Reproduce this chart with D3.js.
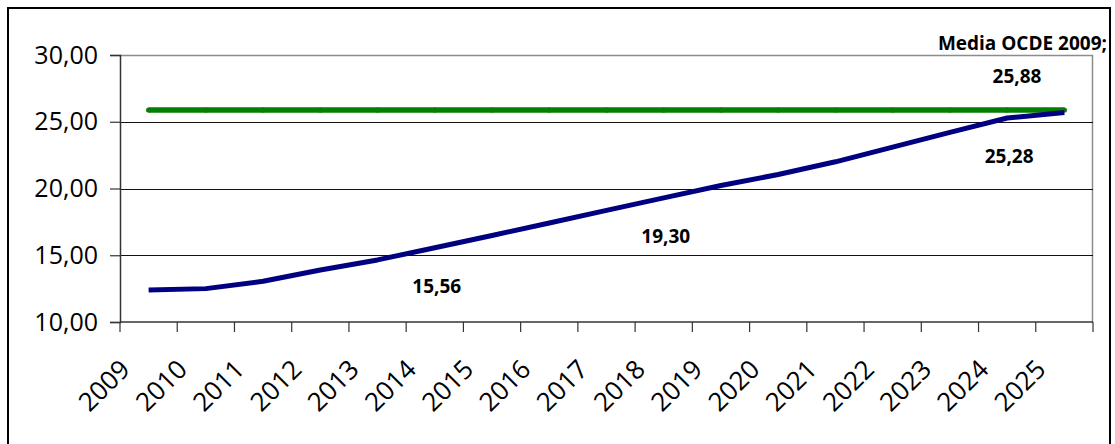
<!DOCTYPE html>
<html>
<head>
<meta charset="utf-8">
<script src="https://cdn.jsdelivr.net/npm/d3@7"></script>
<style>
  html, body { margin: 0; padding: 0; background: #fff; }
  svg { display: block; }
</style>
</head>
<body>
<svg id="chart" width="1115" height="444"></svg>
<script>
// Years on the category axis
const years = ["2009","2010","2011","2012","2013","2014","2015","2016","2017",
               "2018","2019","2020","2021","2022","2023","2024","2025"];
// Projected series (blue)
const projected = [12.40, 12.50, 13.05, 13.90, 14.65, 15.56, 16.48, 17.42, 18.36,
                   19.30, 20.22, 21.05, 22.00, 23.10, 24.20, 25.28, 25.70];
// OECD 2009 average (green, constant)
const oecdAvg = years.map(() => 25.88);
// Value axis ticks
const yTicks = [10, 15, 20, 25, 30];
// Points that carry a value label
const labelledYears = ["2014", "2018", "2024"];

const fmt = v => d3.format(".2f")(v).replace(".", ",");

const svg = d3.select("#chart");
const plot = { left: 120, right: 1093, top: 55, bottom: 322 };

// outer frame
svg.append("rect")
  .attr("x", 8).attr("y", 8)
  .attr("width", 1102).attr("height", 460)
  .attr("fill", "#fff").attr("stroke", "#000").attr("stroke-width", 2);

const x = d3.scaleBand().domain(years).range([plot.left, plot.right]).padding(0);
const y = d3.scaleLinear().domain([10, 30]).range([plot.bottom, plot.top]);
const cx = d => x(d) + x.bandwidth() / 2;

// plot area border (top / right)
svg.append("path")
  .attr("d", `M${plot.left},${plot.top + 0.5}H${plot.right - 0.5}V${plot.bottom}`)
  .attr("fill", "none").attr("stroke", "#8c8c8c").attr("stroke-width", 1.5);

// horizontal gridlines
svg.append("g").selectAll("line")
  .data(yTicks.filter(t => t > 10 && t < 30))
  .join("line")
  .attr("x1", plot.left).attr("x2", plot.right)
  .attr("y1", d => Math.round(y(d)) + 0.5).attr("y2", d => Math.round(y(d)) + 0.5)
  .attr("stroke", "#111").attr("stroke-width", 1);

// value axis
const yAxis = svg.append("g")
  .attr("transform", `translate(${plot.left},0)`)
  .call(d3.axisLeft(y).tickValues(yTicks).tickSize(10).tickPadding(12).tickFormat(fmt));
yAxis.select(".domain").attr("stroke", "#333").attr("stroke-width", 1.5);
yAxis.selectAll(".tick line").attr("stroke", "#333").attr("stroke-width", 1.2);
yAxis.selectAll("text")
  .attr("font-family", "'Open Sans', sans-serif")
  .attr("font-size", 25).attr("fill", "#000");

// category axis: ticks on band boundaries
const xAxisG = svg.append("g").attr("transform", `translate(0,${plot.bottom})`);
xAxisG.append("line")
  .attr("x1", plot.left).attr("x2", plot.right)
  .attr("stroke", "#333").attr("stroke-width", 1.5);
const bounds = years.map(d => x(d)).concat([plot.right]);
xAxisG.selectAll("line.tk").data(bounds).join("line")
  .attr("class", "tk")
  .attr("x1", d => d).attr("x2", d => d)
  .attr("y1", 0).attr("y2", 10)
  .attr("stroke", "#333").attr("stroke-width", 1.2);
xAxisG.selectAll("text").data(years).join("text")
  .attr("transform", d => `translate(${cx(d) - 17},${49}) rotate(-45)`)
  .attr("text-anchor", "end")
  .attr("font-family", "'Open Sans', sans-serif")
  .attr("font-size", 26).attr("fill", "#000")
  .text(d => d);

const line = d3.line().x((d, i) => cx(years[i])).y(d => y(d));

// OECD average line
svg.append("path")
  .datum(oecdAvg)
  .attr("d", line)
  .attr("fill", "none").attr("stroke", "#008000").attr("stroke-width", 5.5);
svg.append("g").selectAll("circle").data(oecdAvg).join("circle")
  .attr("cx", (d, i) => cx(years[i])).attr("cy", d => y(d))
  .attr("r", 2.6).attr("fill", "#0a7a0a");

// projected series
svg.append("path")
  .datum(projected)
  .attr("d", line)
  .attr("fill", "none").attr("stroke", "#000080").attr("stroke-width", 5)
  .attr("stroke-linejoin", "round");

// value labels under the series
const lblFont = "'Open Sans', sans-serif";
svg.append("g").selectAll("text")
  .data(labelledYears)
  .join("text")
  .attr("x", d => cx(d) + 2)
  .attr("y", d => y(projected[years.indexOf(d)]) + 45)
  .attr("text-anchor", "middle")
  .attr("font-family", lblFont).attr("font-weight", 700)
  .attr("font-size", 19).attr("fill", "#000")
  .text(d => fmt(projected[years.indexOf(d)]));

// OECD average label
svg.append("text")
  .attr("x", 1107).attr("y", 50)
  .attr("text-anchor", "end")
  .attr("font-family", lblFont).attr("font-weight", 700)
  .attr("font-size", 19).attr("fill", "#000")
  .text("Media OCDE 2009;");
svg.append("text")
  .attr("x", 1017).attr("y", 83)
  .attr("text-anchor", "middle")
  .attr("font-family", lblFont).attr("font-weight", 700)
  .attr("font-size", 19).attr("fill", "#000")
  .text(fmt(oecdAvg[oecdAvg.length - 1]));
</script>
</body>
</html>
